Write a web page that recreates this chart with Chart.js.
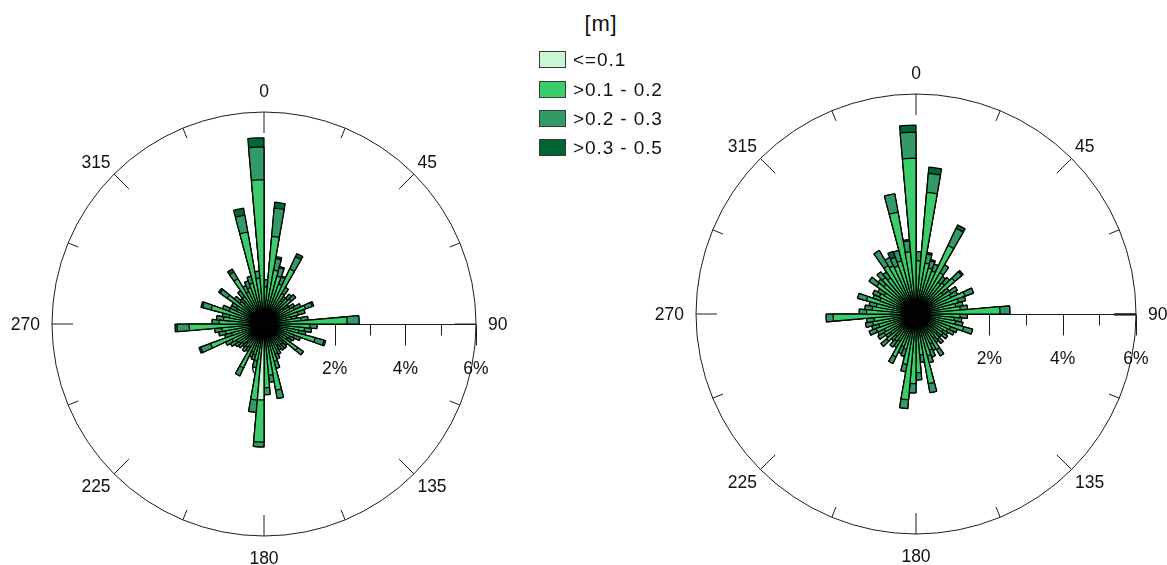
<!DOCTYPE html>
<html>
<head>
<meta charset="utf-8">
<script src="https://cdn.jsdelivr.net/npm/chart.js@4/dist/chart.umd.min.js"></script>
<style>
  html, body { margin: 0; padding: 0; background: #fff; }
  body { width: 1167px; height: 565px; overflow: hidden; position: relative;
         font-family: "Liberation Sans", Arial, sans-serif; color: #111; }
  canvas { position: absolute; }
  #roseA { left: 0; top: 64px; }
  #roseB { left: 636px; top: 44px; }
  .legend-title { position: absolute; left: 539px; width: 124px; top: 11px; text-align: center;
                  font-size: 22px; line-height: 26px; letter-spacing: 0.8px; z-index: 2; }
  .legend-row { position: absolute; left: 539px; height: 22px; line-height: 22px; font-size: 19px;
                letter-spacing: 0.9px; white-space: nowrap; z-index: 2; }
  .legend-row .swatch { position: absolute; left: 0; top: 2px; width: 25px; height: 15px;
                        border: 1px solid #3a3a3a; }
  .legend-row .txt { position: absolute; left: 34px; top: 0; }
</style>
</head>
<body>
<canvas id="roseA" width="528" height="520"></canvas>
<canvas id="roseB" width="560" height="540"></canvas>
<div id="legend"></div>
<script>
// Direction sectors: 5° wide, clockwise from north (sector start angles)
const SECTOR_START = [0,5,10,15,20,25,30,35,40,45,50,55,60,65,70,75,80,85,
  90,95,100,105,110,115,120,125,130,135,140,145,150,155,160,165,170,175,
  180,185,190,195,200,205,210,215,220,225,230,235,240,245,250,255,260,265,
  270,275,280,285,290,295,300,305,310,315,320,325,330,335,340,345,350,355];

// Wave height classes [m]
const CLASS_LABELS = ['<=0.1', '>0.1 - 0.2', '>0.2 - 0.3', '>0.3 - 0.5'];
const CLASS_COLORS = ['#c9f7d1', '#3acd69', '#339966', '#006633'];

// Frequency share (%) per sector and class — left rose
const A_LE01 = [0.2,0.2,0.2,0.2,0.2,0.2,0.2,0.2,0.2,0.2,0.2,0.2,0.2,0.2,0.2,0.2,0.2,0.2,
  0.2,0.2,0.2,0.2,0.2,0.2,0.2,0.2,0.2,0.2,0.2,0.2,0.2,0.2,0.2,0.2,0.2,0.2,
  2.15,0.2,0.2,0.2,0.2,0.2,0.2,0.2,0.2,0.2,0.2,0.2,0.2,0.2,0.2,0.2,0.2,0.2,
  0.2,0.2,0.2,0.2,0.2,0.2,0.2,0.2,0.2,0.2,0.2,0.2,0.2,0.2,0.2,0.2,0.2,0.2];
const A_01_02 = [0.85,2.29,1.35,1.2,1.0,1.52,0.8,0.6,0.75,0.8,0.5,0.65,0.75,1.05,0.8,0.6,0.85,2.15,
  1.1,0.95,0.8,1.3,0.7,0.6,0.55,0.96,0.5,0.55,0.55,0.5,0.6,0.7,0.9,1.7,1.25,1.6,
  1.19,1.96,0.85,0.7,0.65,1.17,0.55,0.6,0.5,0.6,0.65,0.7,0.8,1.41,0.75,0.9,1.0,1.92,
  1.07,0.95,0.8,1.35,0.85,0.65,0.7,1.07,0.7,0.6,0.75,1.28,0.8,0.9,1.0,2.44,1.1,3.88];
const A_02_03 = [0.2,0.8,0.33,0.25,0.22,0.38,0.2,0.15,0.15,0.17,0.15,0.15,0.2,0.2,0.2,0.15,0.2,0.34,
  0.2,0.2,0.2,0.26,0.2,0.15,0.15,0.2,0.15,0.15,0.15,0.15,0.15,0.15,0.2,0.24,0.2,0.2,
  0.14,0.35,0.2,0.15,0.15,0.25,0.15,0.15,0.15,0.15,0.15,0.2,0.2,0.3,0.2,0.2,0.2,0.34,
  0.2,0.2,0.2,0.25,0.2,0.2,0.15,0.25,0.2,0.15,0.2,0.22,0.2,0.2,0.2,0.49,0.2,0.93];
const A_03_05 = [0,0.17,0.06,0.04,0.03,0.1,0,0,0,0,0,0,0,0.05,0,0,0,0,
  0,0,0,0.05,0,0,0,0,0,0,0,0,0,0,0,0,0,0,
  0,0,0,0,0,0,0,0,0,0,0,0,0,0.05,0,0,0,0.06,
  0,0,0,0.05,0,0,0,0.05,0,0,0,0.1,0,0,0,0.2,0,0.26];

// Frequency share (%) per sector and class — right rose
const B_LE01 = [0.2,0.2,0.2,0.2,0.2,0.2,0.2,0.2,0.2,0.2,0.2,0.2,0.2,0.2,0.2,0.2,0.2,0.2,
  0.2,0.2,0.2,0.2,0.2,0.2,0.2,0.2,0.2,0.2,0.2,0.2,0.2,0.2,0.2,0.2,0.2,0.2,
  0.2,0.2,0.2,0.2,0.2,0.2,0.2,0.2,0.2,0.2,0.2,0.2,0.2,0.2,0.2,0.2,0.2,0.2,
  0.2,0.2,0.2,0.2,0.2,0.2,0.2,0.2,0.2,0.2,0.2,0.2,0.2,0.2,0.2,0.2,0.2,0.2];
const B_01_02 = [1.25,3.13,1.21,1.1,1.05,1.86,1.1,0.85,0.9,1.18,0.7,0.9,0.85,1.22,1.0,0.9,1.01,2.09,
  1.0,0.85,0.9,1.15,0.8,0.75,0.65,0.7,0.55,0.7,0.6,0.92,0.7,0.85,0.98,1.73,0.92,1.4,
  1.7,2.15,1.2,0.8,0.75,1.09,0.65,0.7,0.6,0.85,0.65,0.8,0.75,0.96,0.85,1.0,0.95,2.06,
  1.15,1.0,0.9,1.2,0.85,0.9,0.8,1.11,0.95,1.1,1.0,1.32,1.25,1.2,1.3,2.62,1.5,4.05];
const B_02_03 = [0.25,0.52,0.25,0.2,0.2,0.52,0.25,0.2,0.2,0.25,0.2,0.2,0.2,0.25,0.2,0.2,0.2,0.27,
  0.2,0.2,0.2,0.25,0.2,0.2,0.15,0.15,0.15,0.15,0.15,0.2,0.2,0.2,0.2,0.25,0.2,0.2,
  0.25,0.24,0.2,0.2,0.2,0.2,0.2,0.2,0.15,0.2,0.15,0.2,0.2,0.2,0.2,0.2,0.2,0.19,
  0.2,0.2,0.2,0.25,0.2,0.2,0.2,0.25,0.2,0.2,0.2,0.48,0.25,0.25,0.3,0.51,0.3,0.71];
const B_03_05 = [0,0.17,0.05,0.04,0,0.1,0,0,0,0.05,0,0,0,0,0,0,0,0,
  0,0,0,0,0,0,0,0,0,0,0,0,0,0,0,0,0,0,
  0,0,0,0,0,0,0,0,0,0,0,0,0,0,0,0,0,0,
  0,0,0,0,0,0,0,0,0,0,0,0,0,0.17,0,0,0.04,0.19,0,0.25];

// Axis labels
const COMPASS_LABELS = ['0', '45', '90', '135', '180', '225', '270', '315'];
const RADIAL_TICKS = [1, 2, 3, 4, 5, 6];
const RADIAL_LABELS = ['0%', '2%', '4%', '6%'];
const RADIAL_LABEL_VALUES = [0, 2, 4, 6];
const RADIAL_MAX = 6;

// Legend
const legend = document.getElementById('legend');
const title = document.createElement('div');
title.className = 'legend-title';
title.textContent = '[m]';
legend.appendChild(title);
const rowCenters = [60, 89.5, 119, 148];
CLASS_LABELS.forEach((lab, i) => {
  const row = document.createElement('div');
  row.className = 'legend-row';
  row.style.top = (rowCenters[i] - 11) + 'px';
  const sw = document.createElement('span');
  sw.className = 'swatch';
  sw.style.background = CLASS_COLORS[i];
  const tx = document.createElement('span');
  tx.className = 'txt';
  tx.textContent = lab;
  row.appendChild(sw);
  row.appendChild(tx);
  legend.appendChild(row);
});

// Running totals: each class is drawn as a wedge reaching its cumulative share,
// so smaller totals sit over larger ones and the outlines mark the class edges.
function cumulative(parts) {
  const out = [];
  let run = parts[0].map(() => 0);
  parts.forEach(p => {
    run = run.map((v, i) => +(v + p[i]).toFixed(3));
    out.push(run);
  });
  return out;
}

// Compass frame, tick marks and the radial % axis along 90°
const roseFrame = {
  id: 'roseFrame',
  beforeDatasetsDraw(chart, args, opts) {
    const s = chart.scales.r;
    const ctx = chart.ctx;
    const cx = s.xCenter, cy = s.yCenter;
    const R = s.getDistanceFromCenterForValue(RADIAL_MAX);
    ctx.save();
    ctx.strokeStyle = '#1c1c1c';
    ctx.lineWidth = 1;
    ctx.beginPath();
    ctx.arc(cx, cy, R, 0, Math.PI * 2);
    ctx.stroke();
    for (let i = 0; i < 16; i++) {
      const a = i * 22.5 * Math.PI / 180;
      const sx = Math.sin(a), sy = -Math.cos(a);
      const len = i % 2 === 0 ? 21 : 11;
      ctx.beginPath();
      ctx.moveTo(cx + sx * R, cy + sy * R);
      ctx.lineTo(cx + sx * (R - len), cy + sy * (R - len));
      ctx.stroke();
    }
    const y0 = Math.round(cy) + 0.5;
    ctx.beginPath();
    ctx.moveTo(cx, y0);
    ctx.lineTo(cx + R, y0);
    ctx.stroke();
    if (opts.edgeStub) {
      ctx.lineWidth = 2.2;
      ctx.beginPath();
      ctx.moveTo(cx + s.getDistanceFromCenterForValue(5.4), y0);
      ctx.lineTo(cx + R, y0);
      ctx.stroke();
      ctx.lineWidth = 1;
    }
    RADIAL_TICKS.forEach(v => {
      const x = Math.round(cx + s.getDistanceFromCenterForValue(v)) + 0.5;
      const len = v % 2 === 0 ? 21 : 11;
      ctx.beginPath();
      ctx.moveTo(x, y0);
      ctx.lineTo(x, y0 + len);
      ctx.stroke();
    });
    const fs = 17.5;
    const cap = fs * 0.716;
    ctx.font = fs + 'px "Liberation Sans", Arial, sans-serif';
    ctx.fillStyle = '#111';
    ctx.textAlign = 'center';
    ctx.textBaseline = 'alphabetic';
    RADIAL_LABEL_VALUES.forEach((v, i) => {
      const x = cx + s.getDistanceFromCenterForValue(v);
      ctx.fillText(RADIAL_LABELS[i], x, cy + 43.5 + cap / 2);
    });
    COMPASS_LABELS.forEach((lab, i) => {
      const deg = i * 45;
      const a = deg * Math.PI / 180;
      const sx = Math.sin(a), sy = -Math.cos(a);
      const w = ctx.measureText(lab).width;
      let x = cx + sx * R, y = cy + sy * R;
      if (deg % 90 === 0) {
        x += sx * (12 + w / 2);
        y += sy * (15 + cap / 2);
      } else {
        x += Math.sign(sx) * (3.5 + w / 2);
        y += Math.sign(sy) * (6 + cap / 2);
      }
      ctx.fillText(lab, x, y + cap / 2);
    });
    ctx.restore();
  }
};

function makeRose(id, parts, pad, stub) {
  const cum = cumulative(parts);
  const datasets = cum.map((data, i) => ({
    label: CLASS_LABELS[i],
    data: data,
    backgroundColor: CLASS_COLORS[i],
    borderColor: '#000',
    borderWidth: 1.25
  }));
  return new Chart(document.getElementById(id), {
    type: 'polarArea',
    data: { labels: SECTOR_START.map(d => d + '°'), datasets: datasets },
    plugins: [roseFrame],
    options: {
      responsive: false,
      animation: false,
      events: [],
      layout: { padding: pad },
      plugins: {
        legend: { display: false },
        tooltip: { enabled: false },
        roseFrame: { edgeStub: stub }
      },
      scales: {
        r: {
          min: 0,
          max: RADIAL_MAX,
          startAngle: 0,
          ticks: { display: false },
          grid: { display: false },
          angleLines: { display: false },
          pointLabels: { display: false }
        }
      }
    }
  });
}

makeRose('roseA', [A_LE01, A_01_02, A_02_03, A_03_05], { left: 52, right: 52, top: 48, bottom: 48 }, false);
makeRose('roseB', [B_LE01, B_01_02, B_02_03, B_03_05], { left: 60, right: 60, top: 50, bottom: 50 }, true);
</script>
</body>
</html>
